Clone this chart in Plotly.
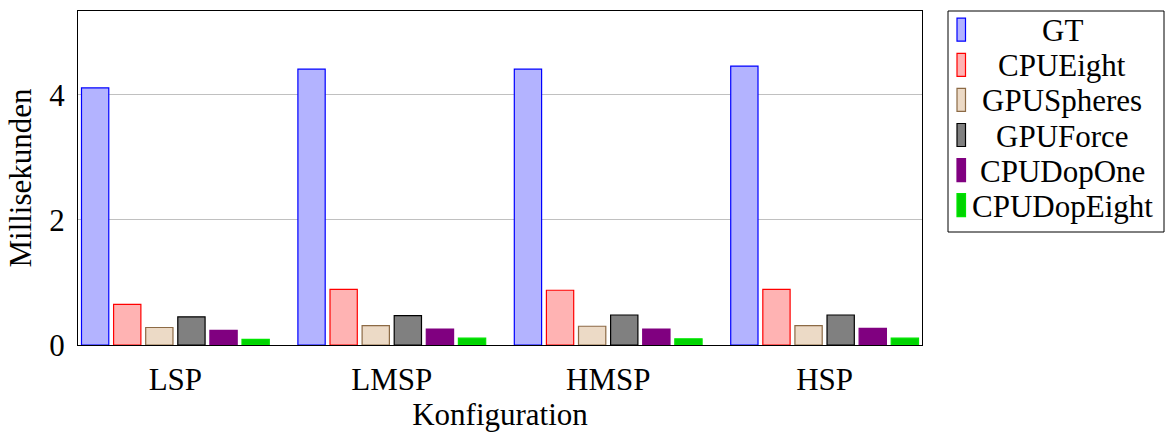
import plotly.graph_objects as go

# Konfigurationen (x-Kategorien)
configs = ["LSP", "LMSP", "HMSP", "HSP"]

# Laufzeiten in Millisekunden je Verfahren
gt = [4.11, 4.41, 4.41, 4.46]
cpu_eight = [0.65, 0.89, 0.875, 0.89]
gpu_spheres = [0.28, 0.31, 0.30, 0.31]
gpu_force = [0.45, 0.47, 0.48, 0.48]
cpu_dop_one = [0.235, 0.256, 0.256, 0.267]
cpu_dop_eight = [0.09, 0.11, 0.10, 0.11]

series_names = ["GT", "CPUEight", "GPUSpheres", "GPUForce", "CPUDopOne", "CPUDopEight"]
series_values = [gt, cpu_eight, gpu_spheres, gpu_force, cpu_dop_one, cpu_dop_eight]
fill_colors = ["#b3b3ff", "#ffb3b3", "#ecdac6", "#808080", "#800080", "#00d400"]
line_colors = ["#0000ff", "#ff0000", "#8c6a45", "#000000", "#800080", "#00e600"]

FONT = "Liberation Serif"
FS = 31

fig = go.Figure()
for name, vals, fc, lc in zip(series_names, series_values, fill_colors, line_colors):
    fig.add_trace(go.Bar(
        x=configs, y=vals, name=name,
        marker=dict(color=fc, line=dict(color=lc, width=1.2)),
        showlegend=False,
    ))

# Legende als Kasten rechts neben dem Diagramm
L, R, T, B = 78, 922, 11, 345
W, H = R - L, B - T


def px(x):
    return (x - L) / W


def py(y):
    return (B - y) / H


shapes = [dict(type="rect", xref="paper", yref="paper",
               x0=px(948), x1=px(1164), y0=py(11), y1=py(232),
               line=dict(color="black", width=1), fillcolor="white", layer="above")]
annotations = []
for i, (name, fc, lc) in enumerate(zip(series_names, fill_colors, line_colors)):
    cy = 29.7 + i * 35.1
    shapes.append(dict(type="rect", xref="paper", yref="paper",
                       x0=px(957), x1=px(965.5), y0=py(cy + 11.5), y1=py(cy - 11.5),
                       line=dict(color=lc, width=1.2), fillcolor=fc, layer="above"))
    annotations.append(dict(xref="paper", yref="paper", x=px(1062), y=py(cy + 1),
                            text=name, showarrow=False, xanchor="center", yanchor="middle",
                            font=dict(family=FONT, size=FS, color="black")))

fig.update_layout(
    width=1169, height=434,
    margin=dict(l=L, r=1169 - R, t=T, b=434 - B, autoexpand=False),
    paper_bgcolor="white", plot_bgcolor="white",
    barmode="group", bargap=0.11, bargroupgap=0.15,
    font=dict(family=FONT, size=FS, color="black"),
    shapes=shapes, annotations=annotations,
    xaxis=dict(
        range=[-0.45, 3.45], showline=True, linecolor="black", linewidth=1, mirror=True,
        ticks="", showgrid=False, ticklabelstandoff=7,
        title=dict(text="Konfiguration", standoff=2, font=dict(family=FONT, size=FS)),
    ),
    yaxis=dict(
        range=[0, 5.34], tickvals=[0, 2, 4], showline=True, linecolor="black", linewidth=1,
        mirror=True, ticks="", showgrid=True, gridcolor="#c0c0c0", gridwidth=1,
        zeroline=False, ticklabelstandoff=6,
        title=dict(text="Millisekunden", standoff=8, font=dict(family=FONT, size=FS)),
    ),
)

fig.write_html("out.html")
